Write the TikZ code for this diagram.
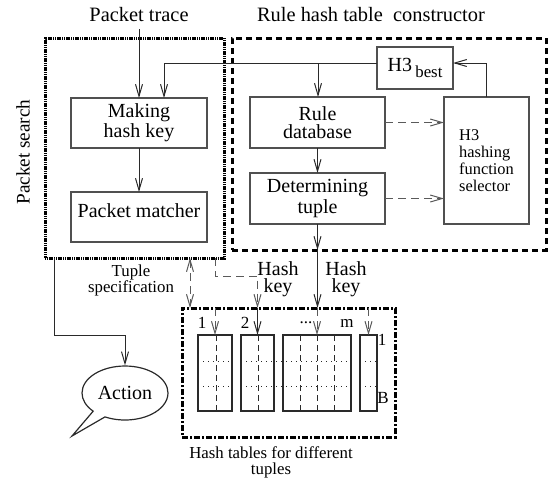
\documentclass[tikz,border=0pt]{standalone}
\usepackage{fontspec}
\setmainfont{Liberation Serif}
\usetikzlibrary{arrows.meta,shapes.geometric,shapes.callouts}
\definecolor{LineGray}{HTML}{2A2A2A}
\definecolor{BoxGray}{HTML}{505050}
\definecolor{DashGray}{HTML}{5A5A5A}

\tikzset{
  blk/.style={draw=BoxGray,line width=0.6pt,inner sep=1pt,outer sep=0pt,
    align=center,font=\fontsize{10}{9}\selectfont},
  region/.style={line width=1.5pt,inner sep=0pt,outer sep=0pt,
    minimum width=#1},
  tbl/.style={draw=LineGray,line width=0.6pt,inner sep=0pt,outer sep=0pt,
    minimum height=38pt},
  arr/.style={draw=LineGray,line width=0.5pt,
    -{Straight Barb[length=6pt,width=3.5pt]}},
  darr/.style={arr,draw=DashGray,dash pattern=on 4pt off 2.5pt},
  lbl/.style={font=\fontsize{8.4}{8}\selectfont,align=center},
  keylbl/.style={font=\fontsize{10}{8.5}\selectfont,align=center},
  idx/.style={font=\fontsize{8.5}{9}\selectfont,inner sep=0pt}
}

\begin{document}
\begin{tikzpicture}[x=0.5pt,y=-0.5pt]
  \useasboundingbox (0,0) rectangle (556,484);

  % titles
  \node[font=\fontsize{10.2}{11}\selectfont] (trace) at (139,15) {Packet trace};
  \node[font=\fontsize{10.2}{11}\selectfont] (rhtc) at (371,15)
    {Rule hash table\ \ constructor};
  \node[font=\fontsize{9.6}{11}\selectfont,rotate=90] (pslbl) at (23,152)
    {Packet search};

  % the two dotted/dashed regions
  \node[region=89.5pt,minimum height=110pt,draw=black,
    dash pattern=on 0.6pt off 0.3pt] (search) at (134.5,148) {};
  \node[region=157pt,minimum height=106pt,draw=black,
    dash pattern=on 3pt off 2pt] (cons) at (389,144) {};

  % packet search side
  \node[blk,minimum width=68pt,minimum height=25pt] (hashkey) at (139,123)
    {Making\\hash key};
  \node[blk,minimum width=68pt,minimum height=25pt,text depth=6pt]
    (matcher) at (139,217) {Packet matcher};

  % constructor side
  \node[blk,minimum width=38pt,minimum height=21pt] (h3best) at (415,68)
    {H3\,\raisebox{-0.7ex}{\fontsize{8.4}{9}\selectfont best}};
  \node[blk,minimum width=67.5pt,minimum height=25.5pt] (ruledb) at (317.5,122.5)
    {Rule\\database};
  \node[blk,minimum width=67.5pt,minimum height=25.5pt] (determ) at (317.5,198.5)
    {Determining\\tuple};
  \node[blk,minimum width=42.5pt,minimum height=63.5pt,align=left,
    font=\fontsize{8.2}{8.4}\selectfont] (selector) at (486.5,160.5)
    {H3\\hashing\\function\\selector};
  \coordinate (split) at (318,63);

  \draw[arr] (trace) -- (hashkey);
  \draw[arr] ([yshift=2.5pt]h3best.west) -| ([xshift=12.5pt]hashkey.north);
  \draw[arr] (split) -- (split |- ruledb.north);
  \draw[arr] (selector.north) |- ([yshift=2.5pt]h3best.east);
  \draw[arr] (ruledb) -- (determ);
  \draw[arr] (hashkey) -- (matcher);
  \draw[darr] (ruledb.east) -- (ruledb.east -| selector.west);
  \draw[darr] (determ.east) -- (determ.east -| selector.west);

  % hash tables
  \node[region=106.5pt,minimum height=64.5pt,draw=black,
    dash pattern=on 3pt off 1pt on 1pt off 1pt] (tables) at (288.5,372.5) {};
  \foreach \n/\cx/\w in {tab1/215/17pt,tab2/257.5/16.5pt,
                         tab3/317/34pt,tabm/368.5/8.5pt}{
    \node[tbl,minimum width=\w] (\n) at (\cx,373) {};
  }
  \foreach \ry in {361,386}{
    \draw[LineGray,line width=0.5pt,dotted] (198,\ry) -- (232,\ry);
    \draw[LineGray,line width=0.5pt,dotted] (241,\ry) -- (351,\ry);
    \draw[LineGray,line width=0.5pt,dotted] (360,\ry) -- (377,\ry);
  }
  \foreach \cx in {216,258,300,317,334}{
    \draw[LineGray,line width=0.5pt,dash pattern=on 3pt off 2pt]
      (\cx,335) -- (\cx,411);
  }
  \node[idx] (n1) at (202,323) {1};
  \node[idx] (n2) at (245,323) {2};
  \node[idx] (ndots) at (306,323) {...};
  \node[idx] (nm) at (347,323) {m};
  \node[idx] (r1) at (382,340) {1};
  \node[idx] (rB) at (383,398) {B};

  % connectors to the hash tables
  \coordinate (tsx) at (190,0);
  \draw[darr,{Straight Barb[length=6pt,width=3.5pt]}-{Straight Barb[length=6pt,width=3.5pt]}]
    (search.south -| tsx) -- (tables.north -| tsx);
  \draw[arr] (determ.south) -- (determ.south |- cons.south);
  \draw[arr] (determ.south |- cons.south) -- (determ.south |- tables.north);
  \draw[darr] (search.south -| tab1) -- ++(0,18) -| (tables.north -| tab2);
  \draw[arr] (tables.north -| tab2) -- (tab2.north);
  \draw[darr] (tables.north -| tab1) -- (tab1.north);
  \draw[darr] (tables.north -| tab3) -- (tab3.north);
  \draw[darr] (tables.north -| tabm) -- (tabm.north);

  \node[keylbl] (hk1) at (278,279) {Hash\\key};
  \node[keylbl] (hk2) at (346,279) {Hash\\key};
  \node[lbl] (tspec) at (131,280) {Tuple\\specification};
  \node[lbl] (tcap) at (271,462) {Hash tables for different\\tuples};

  % action
  \node[ellipse callout,draw=LineGray,line width=0.6pt,minimum width=43pt,
    minimum height=27pt,inner sep=0pt,callout pointer arc=20,
    callout absolute pointer={(72,436)},font=\fontsize{10}{11}\selectfont]
    (action) at (125,393) {Action};
  \draw[arr] ([xshift=-40.25pt]search.south) -- ++(0,77) -| (action.north);
\end{tikzpicture}
\end{document}
